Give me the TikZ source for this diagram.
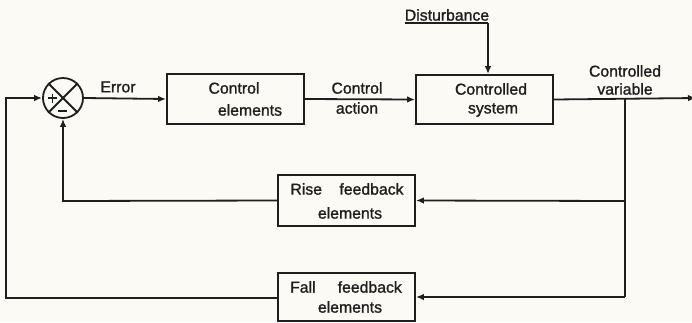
\documentclass[tikz,border=0pt]{standalone}
\usepackage{fontspec}
\setmainfont{Liberation Sans}[BoldFont={Liberation Sans}, BoldFeatures={FakeBold=1.2}]
\usetikzlibrary{arrows.meta}
\definecolor{paper}{RGB}{252,250,245}
\definecolor{ink}{RGB}{30,30,30}
\tikzset{
  wire/.style={draw=ink, line width=1.8pt},
  flow/.style={wire, -{Latex[length=8pt,width=6.5pt]}},
  block/.style={draw=ink, line width=1.8pt, rectangle, inner sep=0pt},
  lbl/.style={text=ink, font=\fontsize{15.8}{18}\selectfont\bfseries, inner sep=0pt, anchor=center}
}
\begin{document}
\begin{tikzpicture}[x=1pt,y=-1pt]
  \fill[paper] (0,0) rectangle (692,322);
  \useasboundingbox (0,0) rectangle (692,322);

  % summing junction
  \node[draw=ink, line width=1.8pt, circle, minimum size=40pt, inner sep=0pt] (sum) at (63,98) {};
  \draw[wire] (sum.north west) -- (sum.south east);
  \draw[wire] (sum.north east) -- (sum.south west);
  \draw[ink, line width=1.5pt] (48,98) -- (57,98) (52.5,93.5) -- (52.5,102.5);
  \draw[ink, line width=1.5pt] (58,111) -- (67,111);

  % blocks
  \node[block, minimum width=137pt, minimum height=50pt] (ctrl) at (235.5,99) {};
  \node[block, minimum width=137pt, minimum height=49pt] (plant) at (484.5,99.5) {};
  \node[block, minimum width=137pt, minimum height=51pt] (rise) at (346.5,200.5) {};
  \node[block, minimum width=137pt, minimum height=48pt] (fall) at (346.5,297) {};

  % block texts
  \node[lbl] at (234,88) {Control};
  \node[lbl] at (250,110) {elements};
  \node[lbl] at (491,89) {Controlled};
  \node[lbl] at (493,110) {system};
  \node[lbl] at (347,189) {Rise\hspace{1.1em}feedback};
  \node[lbl] at (346,287) {Fall\hspace{1.4em}feedback};
  \node[lbl] at (350,213) {elements};
  \node[lbl] at (350,307) {elements};

  % signal labels
  \node[lbl] at (118,87) {Error};
  \node[lbl] at (357,88) {Control};
  \node[lbl] at (357,108) {action};
  \node[lbl] at (625,71) {Controlled};
  \node[lbl] at (625,89) {variable};
  \node[lbl] (dist) at (447,15) {Disturbance};

  % junction points
  \coordinate (out) at (696,98);
  \coordinate (tap) at (625,98);
  \coordinate (tapr) at (625,201);
  \coordinate (tapf) at (625,297);
  \coordinate (distL) at (405,23);
  \coordinate (distR) at (488,23);
  \coordinate (inL) at (6,98);
  \coordinate (inB) at (6,298);
  \coordinate (riseL) at (63,201);

  % forward path
  \draw[flow] (sum.east) -- (ctrl.west);
  \draw[flow] (ctrl.east) -- (plant.west);
  \draw[flow] (plant.east) -- (out);
  \draw[wire] (distL) -- (distR);
  \draw[flow] (distR) -- (distR |- plant.north);

  % feedback paths
  \draw[wire] (tap) -- (tapf);
  \draw[flow] (tapr) -- (rise.east);
  \draw[flow] (tapf) -- (fall.east);
  \draw[flow] (rise.west) -- (riseL) -- (sum.south);
  \draw[flow] (fall.west |- inB) -- (inB) -- (inL) -- (sum.west);
\end{tikzpicture}
\end{document}
